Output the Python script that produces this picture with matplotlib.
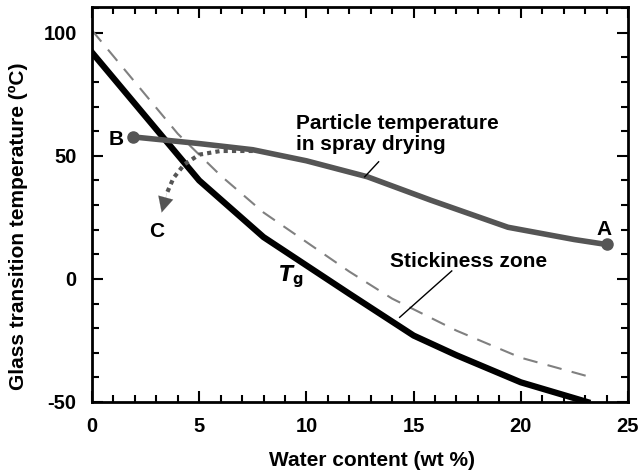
import numpy as np
import matplotlib
matplotlib.use("Agg")
import matplotlib.pyplot as plt
from matplotlib.ticker import MultipleLocator

plt.rcParams['font.family'] = ['Liberation Sans', 'DejaVu Sans']
plt.rcParams['font.weight'] = 'bold'
plt.rcParams['axes.labelweight'] = 'bold'
plt.rcParams['axes.unicode_minus'] = False

# glass transition curve Tg
tg_x = [0, 5, 8, 10, 12, 15, 17, 20, 23.1]
tg_y = [92, 40, 17, 5.5, -6, -23, -31, -42, -50]

# stickiness curve (dashed)
stick_x = [0, 2, 4, 6, 8, 10, 12, 14, 17, 20, 23.1]
stick_y = [101, 80, 59, 42, 27, 15, 3, -8, -21, -32, -39.5]

# particle temperature in spray drying
part_x = [1.93, 5, 7.5, 10, 12.85, 15.8, 19.4, 22.5, 24]
part_y = [57.7, 55, 52.5, 48, 41.5, 32, 21, 16, 14]

# dotted path B -> C
path_x = [7.5, 6, 5, 4.3, 3.8, 3.5]
path_y = [52, 52, 50.5, 46.5, 41, 35]

fig = plt.figure(figsize=(6.38, 4.75), dpi=100)
ax = fig.add_axes([0.1442, 0.1537, 0.8401, 0.8316])

ax.plot(stick_x, stick_y, color='#808080', lw=1.5, dashes=(7, 5))
ax.plot(tg_x, tg_y, color='black', lw=4.5, solid_joinstyle='miter')
ax.plot(part_x, part_y, color='#555555', lw=4)
ax.plot([part_x[0], part_x[-1]], [part_y[0], part_y[-1]], 'o', color='#555555', ms=8)

ax.plot(path_x, path_y, color='#555555', lw=3, ls=(0, (1, 1)))
ax.annotate('', xy=(3.25, 27.0), xytext=(path_x[-1], path_y[-1]),
            arrowprops=dict(arrowstyle='-|>,head_length=1.1,head_width=0.55',
                            color='#555555', lw=0.1, shrinkA=0, shrinkB=0))

fs = 15
ax.text(1.14, 54.5, 'B', fontsize=fs, ha='center', va='baseline')
ax.text(23.9, 17.9, 'A', fontsize=fs, ha='center', va='baseline')
ax.text(3.03, 17.1, 'C', fontsize=fs, ha='center', va='baseline')
ax.text(8.67, -1.2, r'$\boldsymbol{T}_{\mathbf{g}}$', fontsize=fs, ha='left', va='baseline')
ax.text(9.5, 61.1, 'Particle temperature', fontsize=fs, ha='left', va='baseline')
ax.text(9.5, 52.4, 'in spray drying', fontsize=fs, ha='left', va='baseline')
ax.plot([13.37, 12.72], [47.6, 41.5], color='black', lw=1)
ax.text(17.57, 4.9, 'Stickiness zone', fontsize=fs, ha='center', va='baseline')
ax.plot([16.78, 14.35], [3.25, -15.6], color='black', lw=1)

ax.set_xlim(0, 25)
ax.set_ylim(-50, 110.5)
ax.xaxis.set_major_locator(MultipleLocator(5))
ax.xaxis.set_minor_locator(MultipleLocator(1))
ax.yaxis.set_major_locator(MultipleLocator(50))
ax.yaxis.set_minor_locator(MultipleLocator(10))
ax.tick_params(which='both', direction='in', top=True, right=True, width=1.5,
               labelsize=14.5, pad=11)
ax.tick_params(which='major', length=8)
ax.tick_params(which='minor', length=5)
for s in ax.spines.values():
    s.set_linewidth(2)

ax.set_xlabel('Water content (wt %)', fontsize=fs)
ax.set_ylabel('Glass transition temperature (ºC)', fontsize=fs)
ax.xaxis.set_label_coords(0.522, -0.125)
ax.yaxis.set_label_coords(-0.119, 0.4456)

fig.savefig('out.png', dpi=100)
